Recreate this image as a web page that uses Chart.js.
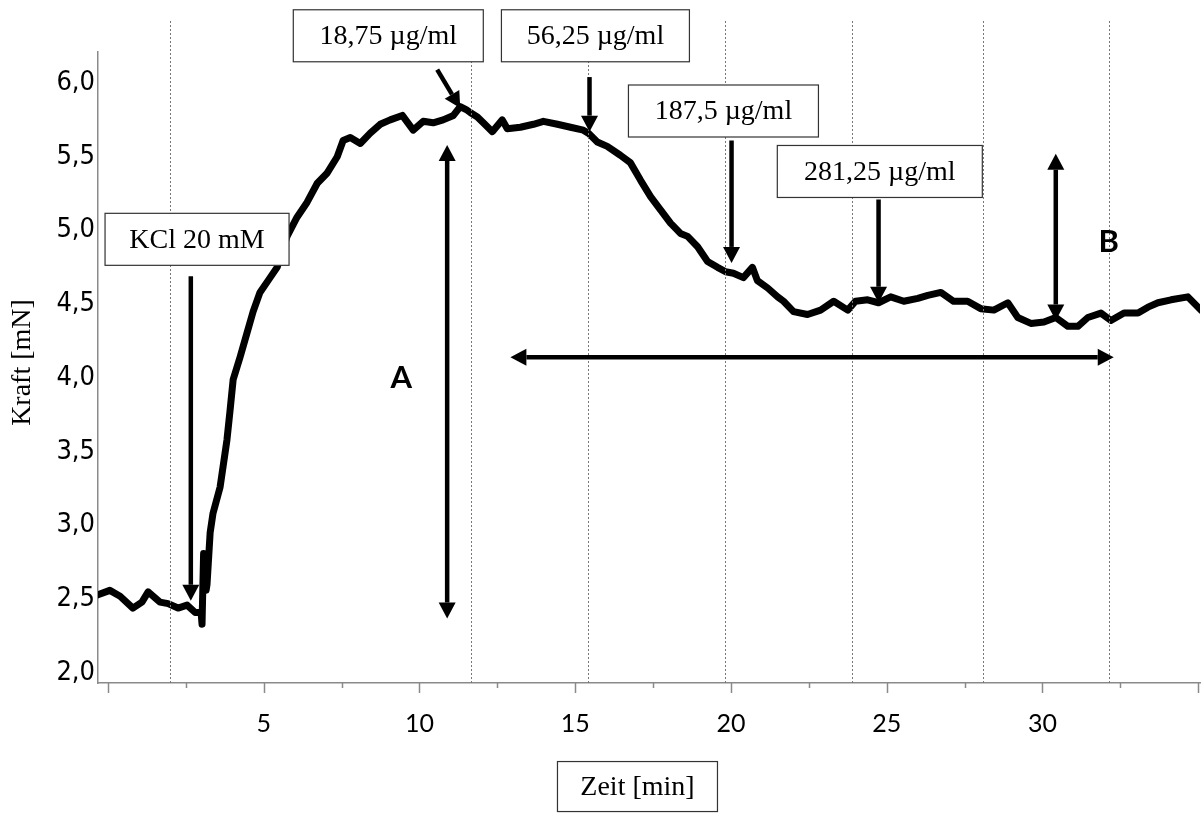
<!DOCTYPE html>
<html>
<head>
<meta charset="utf-8">
<script src="https://cdn.jsdelivr.net/npm/chart.js@4.4.0/dist/chart.umd.min.js"></script>
<style>
  html, body { margin: 0; padding: 0; background: #fff; }
  #wrap { width: 1204px; height: 816px; }
</style>
</head>
<body>
<div id="wrap"><canvas id="forceChart" width="1204" height="816"></canvas></div>
<script>
// force trace (time in min, force in mN)
const timeMin = [
  -0.32, 0.06, 0.39, 0.80, 1.09, 1.29, 1.67, 1.93, 2.25, 2.54,
  2.80, 2.99, 3.02, 3.07, 3.15, 3.18, 3.28, 3.37, 3.60, 3.82,
  3.92, 4.02, 4.24, 4.47, 4.66, 4.88, 5.14, 5.43, 5.75, 6.07,
  6.39, 6.72, 7.04, 7.36, 7.55, 7.78, 8.10, 8.42, 8.74, 9.06,
  9.45, 9.80, 10.12, 10.44, 10.76, 11.09, 11.31, 11.50, 11.63, 11.86,
  12.05, 12.34, 12.66, 12.82, 13.24, 13.66, 13.98, 14.43, 14.85, 15.26,
  15.42, 15.71, 16.03, 16.45, 16.77, 17.10, 17.42, 17.74, 18.06, 18.38,
  18.61, 18.93, 19.25, 19.57, 19.83, 20.08, 20.40, 20.69, 20.85, 21.18,
  21.50, 21.69, 22.01, 22.46, 22.88, 23.30, 23.75, 24.00, 24.39, 24.74,
  25.13, 25.55, 26.00, 26.32, 26.74, 27.15, 27.60, 28.02, 28.44, 28.89,
  29.21, 29.63, 30.05, 30.43, 30.82, 31.14, 31.46, 31.88, 32.20, 32.62,
  33.07, 33.39, 33.71, 34.13, 34.67, 35.09
];
const forceMN = [
  2.53, 2.56, 2.52, 2.44, 2.48, 2.55, 2.48, 2.47, 2.44, 2.46,
  2.41, 2.41, 2.33, 2.81, 2.56, 2.60, 2.95, 3.08, 3.26, 3.58,
  3.78, 3.99, 4.14, 4.31, 4.45, 4.58, 4.66, 4.75, 4.96, 5.09,
  5.19, 5.32, 5.39, 5.50, 5.61, 5.63, 5.59, 5.66, 5.72, 5.75,
  5.78, 5.68, 5.74, 5.73, 5.75, 5.78, 5.84, 5.82, 5.80, 5.77,
  5.73, 5.67, 5.75, 5.69, 5.70, 5.72, 5.74, 5.72, 5.70, 5.68,
  5.66, 5.60, 5.57, 5.51, 5.46, 5.34, 5.23, 5.14, 5.05, 4.98,
  4.96, 4.89, 4.79, 4.75, 4.72, 4.71, 4.68, 4.75, 4.66, 4.61,
  4.55, 4.52, 4.45, 4.43, 4.46, 4.52, 4.46, 4.52, 4.53, 4.51,
  4.55, 4.52, 4.54, 4.56, 4.58, 4.52, 4.52, 4.47, 4.46, 4.51,
  4.41, 4.37, 4.38, 4.41, 4.35, 4.35, 4.41, 4.44, 4.39, 4.44,
  4.44, 4.48, 4.51, 4.53, 4.55, 4.46
];

// axis ticks
const xTickValues = [0, 2.5, 5, 7.5, 10, 12.5, 15, 17.5, 20, 22.5, 25, 27.5, 30, 32.5, 35];
const xTickLabels = ['', '', '5', '', '10', '', '15', '', '20', '', '25', '', '30', '', ''];
const yTickValues = [2.0, 2.5, 3.0, 3.5, 4.0, 4.5, 5.0, 5.5, 6.0];
const yTickLabels = ['2,0', '2,5', '3,0', '3,5', '4,0', '4,5', '5,0', '5,5', '6,0'];

// event markers (dotted verticals), min
const markerTimes = [1.99, 11.65, 15.41, 19.80, 23.90, 28.08, 32.13];

// labelled boxes, centred at [min, mN]
const boxTexts = ['KCl 20 mM', '18,75 \u00b5g/ml', '56,25 \u00b5g/ml', '187,5 \u00b5g/ml', '281,25 \u00b5g/ml'];
const boxAt = [[2.86, 4.94], [9.0, 6.32], [15.65, 6.32], [19.76, 5.81], [24.78, 5.40]];
const boxWidths = [184, 190, 188, 190, 205];

// application arrows: from -> to
const doseArrows = [
  [[2.66, 4.69], [2.66, 2.49]],
  [[10.57, 6.09], [11.31, 5.83]],
  [[15.46, 6.04], [15.46, 5.67]],
  [[20.02, 5.61], [20.02, 4.78]],
  [[24.74, 5.21], [24.74, 4.51]]
];
// double-headed arrows
const spanArrows = [
  [[10.89, 5.58], [10.89, 2.37]],
  [[30.43, 5.52], [30.43, 4.39]],
  [[12.92, 4.14], [32.29, 4.14]]
];
const letters = [['A', 9.42, 4.00], ['B', 32.13, 4.92]];

const SERIF = "'Liberation Serif', 'Times New Roman', serif";
const AXIS_GRAY = '#8a8a8a';

function head(ctx, x1, y1, x2, y2, len, half) {
  const a = Math.atan2(y2 - y1, x2 - x1);
  ctx.beginPath();
  ctx.moveTo(x2, y2);
  ctx.lineTo(x2 - len * Math.cos(a) + half * Math.sin(a), y2 - len * Math.sin(a) - half * Math.cos(a));
  ctx.lineTo(x2 - len * Math.cos(a) - half * Math.sin(a), y2 - len * Math.sin(a) + half * Math.cos(a));
  ctx.closePath();
  ctx.fill();
}

function arrow(ctx, p1, p2, both) {
  const len = 16, half = 8.5;
  const a = Math.atan2(p2[1] - p1[1], p2[0] - p1[0]);
  const sx = both ? p1[0] + len * Math.cos(a) : p1[0];
  const sy = both ? p1[1] + len * Math.sin(a) : p1[1];
  ctx.beginPath();
  ctx.moveTo(sx, sy);
  ctx.lineTo(p2[0] - len * Math.cos(a), p2[1] - len * Math.sin(a));
  ctx.stroke();
  head(ctx, p1[0], p1[1], p2[0], p2[1], len, half);
  if (both) head(ctx, p2[0], p2[1], p1[0], p1[1], len, half);
}

function textBox(ctx, text, cx, cy, w, h) {
  ctx.fillStyle = '#fff';
  ctx.fillRect(cx - w / 2, cy - h / 2, w, h);
  ctx.strokeStyle = '#333';
  ctx.lineWidth = 1.2;
  ctx.strokeRect(cx - w / 2, cy - h / 2, w, h);
  ctx.fillStyle = '#000';
  ctx.font = '28px ' + SERIF;
  ctx.textAlign = 'center';
  ctx.textBaseline = 'middle';
  ctx.fillText(text, cx, cy + 1);
}

const overlay = {
  id: 'overlay',
  afterDatasetsDraw(chart) {
    const ctx = chart.ctx, xs = chart.scales.x, ys = chart.scales.y;
    ctx.save();
    ctx.strokeStyle = '#777';
    ctx.lineWidth = 1;
    ctx.setLineDash([2, 2]);
    markerTimes.forEach(t => {
      const px = Math.round(xs.getPixelForValue(t)) + 0.5;
      ctx.beginPath();
      ctx.moveTo(px, ys.getPixelForValue(6.42));
      ctx.lineTo(px, chart.chartArea.bottom);
      ctx.stroke();
    });
    ctx.restore();
  },
  afterDraw(chart) {
    const ctx = chart.ctx, xs = chart.scales.x, ys = chart.scales.y;
    const area = chart.chartArea;
    const P = (t, v) => [xs.getPixelForValue(t), ys.getPixelForValue(v)];
    ctx.save();

    // x tick marks, long at every 5 min
    ctx.strokeStyle = AXIS_GRAY;
    ctx.lineWidth = 1.5;
    xTickValues.forEach(t => {
      const px = Math.round(xs.getPixelForValue(t)) + 0.5;
      const len = t % 5 === 0 ? 10 : 5;
      ctx.beginPath();
      ctx.moveTo(px, area.bottom);
      ctx.lineTo(px, area.bottom + len);
      ctx.stroke();
    });

    // arrows
    ctx.strokeStyle = '#000';
    ctx.fillStyle = '#000';
    ctx.lineWidth = 4.5;
    doseArrows.forEach(a => arrow(ctx, P(a[0][0], a[0][1]), P(a[1][0], a[1][1]), false));
    spanArrows.forEach(a => arrow(ctx, P(a[0][0], a[0][1]), P(a[1][0], a[1][1]), true));

    // boxes
    boxTexts.forEach((txt, i) => {
      const c = P(boxAt[i][0], boxAt[i][1]);
      textBox(ctx, txt, c[0], c[1], boxWidths[i], 52);
    });

    // A / B
    ctx.fillStyle = '#000';
    ctx.font = "bold 31px Lato, 'Open Sans', sans-serif";
    ctx.textAlign = 'center';
    ctx.textBaseline = 'middle';
    letters.forEach(l => {
      const c = P(l[1], l[2]);
      ctx.fillText(l[0], c[0], c[1]);
    });

    // axis titles
    textBox(ctx, 'Zeit [min]', xs.getPixelForValue(17.0), ys.getPixelForValue(1.23), 160, 50);
    ctx.save();
    ctx.translate(area.left - 75, (area.top + area.bottom) / 2 - 5);
    ctx.rotate(-Math.PI / 2);
    ctx.font = '28px ' + SERIF;
    ctx.fillStyle = '#000';
    ctx.textAlign = 'center';
    ctx.textBaseline = 'middle';
    ctx.fillText('Kraft [mN]', 0, 0);
    ctx.restore();

    ctx.restore();
  }
};

new Chart(document.getElementById('forceChart'), {
  type: 'line',
  data: {
    datasets: [{
      data: timeMin.map((t, i) => ({ x: t, y: forceMN[i] })),
      borderColor: '#000',
      borderWidth: 7,
      borderJoinStyle: 'round',
      borderCapStyle: 'round',
      pointRadius: 0,
      tension: 0,
      fill: false
    }]
  },
  options: {
    responsive: false,
    animation: false,
    devicePixelRatio: 1,
    layout: { padding: { top: 52, right: 4, left: 0, bottom: 0 } },
    plugins: { legend: { display: false }, tooltip: { enabled: false } },
    scales: {
      x: {
        type: 'linear',
        min: -0.32,
        max: 35.06,
        afterBuildTicks: s => { s.ticks = xTickValues.map(v => ({ value: v })); },
        afterFit: s => { s.height = 133; s.paddingLeft = 0; s.paddingRight = 0; },
        grid: { display: false, drawTicks: false },
        border: { display: true, color: AXIS_GRAY, width: 1.5 },
        ticks: {
          autoSkip: false,
          maxRotation: 0,
          padding: 26,
          color: '#000',
          font: { family: "Lato, 'Open Sans', sans-serif", size: 25 },
          callback: (v, i) => xTickLabels[i]
        }
      },
      y: {
        type: 'linear',
        min: 1.932,
        max: 6.21,
        afterBuildTicks: s => { s.ticks = yTickValues.map(v => ({ value: v })); },
        afterFit: s => { s.width = 98; s.paddingTop = 0; s.paddingBottom = 0; },
        grid: { display: false, drawTicks: false },
        border: { display: true, color: AXIS_GRAY, width: 1.5 },
        ticks: {
          padding: 3,
          color: '#000',
          font: { family: "'Liberation Sans Narrow', 'DejaVu Sans Condensed', sans-serif", size: 27 },
          callback: (v, i) => yTickLabels[i]
        }
      }
    }
  },
  plugins: [overlay]
});
</script>
</body>
</html>
